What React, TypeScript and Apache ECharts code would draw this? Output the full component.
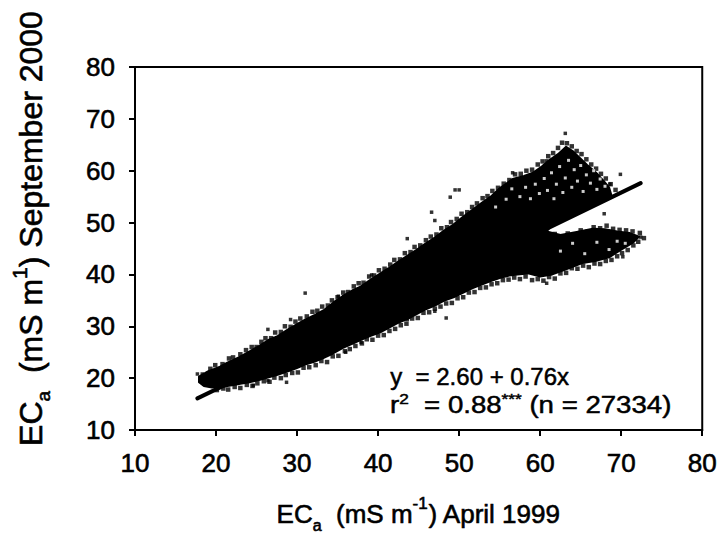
import { useEffect, useRef } from "react";
import * as echarts from "echarts";

// Outline of the dense point cloud (EC_a April 1999 vs September 2000)
const CLOUD_X = [
  17.9, 19.0, 20.5, 21.4, 22.8, 24.1, 25.3, 26.4, 27.6, 28.7, 30.0, 31.0, 32.2, 33.3, 34.5, 35.6,
  36.8, 37.9, 39.0, 40.2, 41.3, 42.4, 43.6, 44.7, 45.8, 47.0, 48.1, 49.3, 50.4, 51.6, 52.8, 53.9,
  55.0, 56.6, 58.0, 59.1, 60.2, 61.1, 62.2, 63.2, 64.0, 64.8, 65.8, 66.9, 67.8, 68.5, 68.8, 66.0,
  63.5, 61.5, 60.8, 62.5, 64.5, 66.5, 68.0, 69.5, 71.0, 72.2, 71.5, 70.0, 68.5, 66.8, 65.2, 63.2,
  61.5, 60.0, 58.5, 57.2, 56.2, 55.0, 53.9, 52.7, 51.6, 50.4, 49.3, 48.1, 47.0, 45.8, 44.7, 43.6,
  42.4, 41.3, 40.2, 39.0, 37.9, 36.8, 35.6, 34.5, 33.3, 32.2, 31.0, 29.9, 28.7, 27.5, 26.4, 25.2,
  24.1, 23.0, 21.8, 20.6, 19.5, 18.5, 17.9,
];
const CLOUD_Y = [
  20.3, 21.3, 22.2, 23.0, 24.0, 25.1, 26.2, 27.3, 28.1, 29.2, 30.4, 31.3, 32.2, 33.1, 34.6, 35.8,
  36.9, 37.7, 38.9, 40.1, 41.2, 42.4, 43.6, 44.7, 45.9, 47.1, 48.4, 49.6, 51.0, 52.4, 53.8, 55.0,
  56.6, 58.4, 59.0, 59.6, 60.8, 62.0, 63.2, 64.6, 63.8, 62.6, 61.1, 59.6, 58.1, 56.8, 55.2, 53.2,
  51.3, 49.6, 48.3, 47.6, 48.2, 48.8, 48.7, 48.3, 48.0, 47.3, 46.2, 44.8, 43.3, 42.6, 42.2, 41.0,
  40.0, 39.6, 40.2, 40.0, 39.8, 39.3, 38.7, 38.0, 37.3, 36.4, 35.6, 34.9, 34.0, 33.2, 32.3, 31.4,
  30.6, 29.7, 28.8, 28.1, 27.4, 26.6, 25.8, 24.8, 23.9, 23.2, 22.6, 21.9, 21.2, 20.6, 20.1, 19.6,
  19.2, 18.9, 18.6, 18.3, 18.2, 18.5, 19.2,
];

// Points along the ragged edges of the cloud
const EDGE_X = [
  // upper edge
  19.3, 19.9, 20.8, 21.6, 22.1, 23.0, 23.7, 24.4, 25.0, 25.6, 26.1, 26.8, 27.3, 28.0, 28.5, 29.2,
  29.8, 30.4, 31.2, 31.9, 32.5, 33.1, 33.8, 34.3, 35.0, 35.7, 36.3, 37.0, 37.6, 38.2, 38.9, 39.5,
  40.1, 40.8, 41.5, 42.0, 42.7, 43.3, 44.0, 44.5, 45.2, 45.9, 46.5, 47.2, 47.8, 48.5, 49.0, 49.7,
  50.3, 51.0, 51.6, 52.2, 52.9, 53.5, 54.1, 54.8, 55.5, 56.2, 56.9, 57.6, 58.3, 59.0, 59.7, 60.3,
  61.0, 61.6, 62.2, 62.7, 63.3, 63.9, 64.5, 65.1, 65.7, 66.3, 66.9, 67.5, 68.1, 68.7, 69.3,
  // lower edge
  20.1, 20.9, 21.5, 22.3, 23.0, 23.8, 24.5, 25.1, 25.9, 26.6, 27.2, 28.0, 28.6, 29.4, 30.1, 30.8,
  31.5, 32.3, 33.0, 33.7, 34.4, 35.1, 35.9, 36.5, 37.2, 38.0, 38.6, 39.3, 40.0, 40.7, 41.4, 42.1,
  42.8, 43.5, 44.2, 44.9, 45.6, 46.3, 47.0, 47.7, 48.4, 49.1, 49.8, 50.5, 51.2, 51.9, 52.6, 53.3,
  54.0, 54.7, 55.4, 56.1, 56.8, 57.5, 58.2, 59.0, 59.7, 60.4, 61.1, 61.8, 62.5, 63.2, 63.9, 64.6,
  65.3, 66.0, 66.7, 67.4, 68.1, 68.8, 69.5, 70.1, 70.8, 71.5, 72.1, 72.8,
  // top of the lower branch
  61.8, 62.6, 63.4, 64.2, 65.0, 65.8, 66.6, 67.4, 68.2, 69.0, 69.8, 70.6, 71.4, 72.3,
];
const EDGE_Y = [
  // upper edge
  21.8, 22.5, 22.7, 23.8, 24.0, 24.6, 25.4, 26.0, 26.0, 27.0, 27.7, 27.7, 28.8, 28.9, 30.0, 29.9,
  30.9, 31.5, 31.9, 32.8, 33.0, 33.8, 34.0, 35.0, 35.6, 36.5, 36.6, 37.7, 38.3, 38.4, 39.6, 39.8,
  40.8, 41.1, 41.9, 42.8, 42.9, 44.1, 44.3, 45.3, 45.6, 46.6, 47.3, 47.7, 48.9, 49.1, 50.1, 50.7,
  51.7, 52.0, 53.0, 53.7, 54.7, 55.1, 56.1, 56.7, 57.5, 58.2, 59.3, 59.4, 60.0, 60.2, 61.2, 61.8,
  62.8, 63.4, 64.4, 65.4, 65.3, 64.7, 63.8, 63.2, 62.2, 61.2, 60.4, 59.4, 58.5, 57.4, 56.3,
  // lower edge
  17.7, 18.0, 17.8, 18.3, 18.1, 18.7, 18.5, 19.0, 19.4, 19.3, 20.1, 20.0, 20.6, 21.0, 21.1, 22.0,
  22.1, 22.5, 23.3, 23.1, 24.2, 24.3, 25.2, 25.6, 26.2, 26.7, 27.5, 27.4, 28.2, 28.3, 29.1, 29.5,
  30.2, 30.5, 31.5, 31.6, 32.6, 32.7, 33.4, 33.8, 34.4, 34.5, 35.4, 35.6, 36.5, 36.6, 37.4, 37.5,
  38.1, 38.3, 38.9, 39.0, 39.4, 39.1, 39.6, 38.9, 39.1, 38.8, 39.5, 39.2, 40.2, 40.3, 41.2, 41.1,
  41.7, 41.4, 42.1, 42.0, 42.6, 42.8, 43.5, 44.1, 44.7, 45.6, 46.3, 47.0,
  // top of the lower branch
  47.8, 47.2, 47.9, 47.6, 48.5, 48.2, 49.1, 48.9, 49.4, 48.8, 48.6, 48.5, 48.3, 48.0,
];

// Isolated points away from the cloud
const OUTLIER_X = [
  17.7, 18.3, 26.4, 29.2, 31.0, 35.1, 39.2, 43.6, 46.6, 47.0, 49.5, 50.0, 48.9, 56.6, 60.8, 63.1,
  69.9, 68.6, 67.9, 72.4, 70.2, 60.8, 48.4, 47.0, 43.6, 37.9, 36.0, 28.7, 26.4, 24.6,
];
const OUTLIER_Y = [
  20.8, 20.8, 29.4, 31.3, 36.4, 35.8, 39.9, 46.9, 52.0, 50.4, 56.3, 56.3, 54.9, 59.6, 61.9, 67.2,
  59.3, 57.4, 51.7, 47.2, 43.4, 38.3, 31.6, 32.9, 31.3, 26.9, 25.0, 19.2, 19.5, 18.6,
];

// Sparse (white) spots inside the upper-right branches of the cloud
const GAP_X = [
  54.5, 55.8, 56.5, 57.5, 58.2, 58.8, 59.4, 59.9, 60.5, 60.9, 61.4, 61.7, 62.0, 62.4, 62.8, 63.1,
  63.5, 63.9, 64.2, 64.6, 65.0, 65.3, 65.7, 66.2, 66.6, 67.0, 67.4, 68.0,
  62.5, 64.0, 65.5, 67.0, 68.5, 69.5, 70.5,
];
const GAP_Y = [
  53.0, 54.5, 56.5, 55.0, 56.8, 54.6, 57.4, 55.6, 58.5, 56.2, 59.6, 54.6, 57.4, 60.8, 55.8, 58.6,
  62.0, 56.8, 60.2, 58.0, 61.0, 56.0, 59.2, 57.6, 60.0, 56.4, 58.4, 57.0,
  44.5, 46.0, 44.0, 46.2, 44.8, 46.4, 46.0,
];

// Regression line end points
const FIT_X = [17.7, 72.4];
const FIT_Y = [16.1, 57.6];

const EQUATION = "y  = 2.60 + 0.76x";
const R2 = "0.88";
const N_OBS = "27334";

const FONT = "'Liberation Sans', Arial, Helvetica, sans-serif";

export default function App() {
  const ref = useRef<HTMLDivElement>(null);

  useEffect(() => {
    const chart = echarts.init(ref.current!, null, { renderer: "svg" });
    const cloud = CLOUD_X.map((x, i) => [x, CLOUD_Y[i]]);
    const heavy = { textBorderColor: "#000", textBorderWidth: 0.6 };
    const richTitle = (size: number) => ({
      t: { fontFamily: FONT, fontSize: size, color: "#000", lineHeight: size + 12, verticalAlign: "middle", ...heavy },
      s: { fontFamily: FONT, fontSize: Math.round(size * 0.6), color: "#000", lineHeight: Math.round(size * 0.6), verticalAlign: "bottom", ...heavy },
      p: { fontFamily: FONT, fontSize: Math.round(size * 0.65), color: "#000", lineHeight: Math.round(size * 0.65), verticalAlign: "top", ...heavy },
    });
    chart.setOption({
      animation: false,
      backgroundColor: "#fff",
      grid: {
        left: 135,
        right: 17,
        top: 67,
        bottom: 110,
        show: true,
        borderColor: "#000",
        borderWidth: 2,
        backgroundColor: "transparent",
      },
      xAxis: {
        type: "value",
        min: 10,
        max: 80,
        interval: 10,
        name: "{t|EC}{s|a}{t|  (mS m}{p|-1}{t|) April 1999}",
        nameLocation: "middle",
        nameGap: 65,
        nameTextStyle: { rich: richTitle(26) },
        axisLine: { show: true, lineStyle: { color: "#000", width: 2 } },
        axisTick: { show: true, inside: false, length: 6, lineStyle: { color: "#000", width: 2 } },
        axisLabel: { color: "#000", fontFamily: FONT, fontSize: 26, margin: 20, ...heavy },
        splitLine: { show: false },
      },
      yAxis: {
        type: "value",
        min: 10,
        max: 80,
        interval: 10,
        name: "{t|EC}{s|a}{t|  (mS m}{p|1}{t|) September 2000}",
        nameLocation: "middle",
        nameGap: 82,
        nameRotate: 90,
        nameTextStyle: { padding: [0, 0, 0, 40], rich: richTitle(32) },
        axisLine: { show: true, lineStyle: { color: "#000", width: 2 } },
        axisTick: { show: true, inside: false, length: 6, lineStyle: { color: "#000", width: 2 } },
        axisLabel: { color: "#000", fontFamily: FONT, fontSize: 26, margin: 20, ...heavy },
        splitLine: { show: false },
      },
      series: [
        {
          type: "custom",
          name: "cloud",
          coordinateSystem: "cartesian2d",
          silent: true,
          z: 2,
          data: [cloud[0]],
          renderItem: (_params: any, api: any) => ({
            type: "polygon",
            shape: { points: cloud.map((p) => api.coord(p)) },
            style: { fill: "#000", stroke: "#000", lineWidth: 2, lineJoin: "round" },
          }),
        },
        {
          type: "scatter",
          name: "edge points",
          symbol: "rect",
          symbolSize: 4.5,
          z: 3,
          itemStyle: { color: "#000" },
          data: EDGE_X.map((x, i) => [x, EDGE_Y[i]]),
        },
        {
          type: "scatter",
          name: "outliers",
          symbol: "rect",
          symbolSize: 3.5,
          z: 3,
          itemStyle: { color: "#000" },
          data: OUTLIER_X.map((x, i) => [x, OUTLIER_Y[i]]),
        },
        {
          type: "scatter",
          name: "gaps",
          symbol: "rect",
          symbolSize: 3,
          z: 4,
          itemStyle: { color: "#fff" },
          data: GAP_X.map((x, i) => [x, GAP_Y[i]]),
        },
        {
          type: "line",
          name: "fit",
          z: 5,
          symbol: "none",
          lineStyle: { color: "#000", width: 4, cap: "round" },
          data: FIT_X.map((x, i) => [x, FIT_Y[i]]),
        },
      ],
      graphic: [
        {
          type: "text",
          left: 390,
          top: 364,
          z: 10,
          style: {
            text: EQUATION,
            fontFamily: FONT,
            fontSize: 24,
            fill: "#000",
            stroke: "#000",
            lineWidth: 0.5,
          },
        },
        {
          type: "text",
          x: 390,
          y: 391,
          scaleX: 1.15,
          z: 10,
          style: {
            text: `{t|r}{p|2}{t|  = ${R2}}{p|***}{t| (n = ${N_OBS})}`,
            rich: {
              t: { fontFamily: FONT, fontSize: 24, fill: "#000", lineHeight: 28, verticalAlign: "middle", stroke: "#000", lineWidth: 0.5 },
              p: { fontFamily: FONT, fontSize: 15, fill: "#000", lineHeight: 15, verticalAlign: "top", stroke: "#000", lineWidth: 0.5 },
            },
          },
        },
      ],
    });
    return () => chart.dispose();
  }, []);

  return (
    <div
      ref={ref}
      style={{ position: "fixed", left: 0, top: 0, width: 720, height: 540, background: "#fff" }}
    />
  );
}
